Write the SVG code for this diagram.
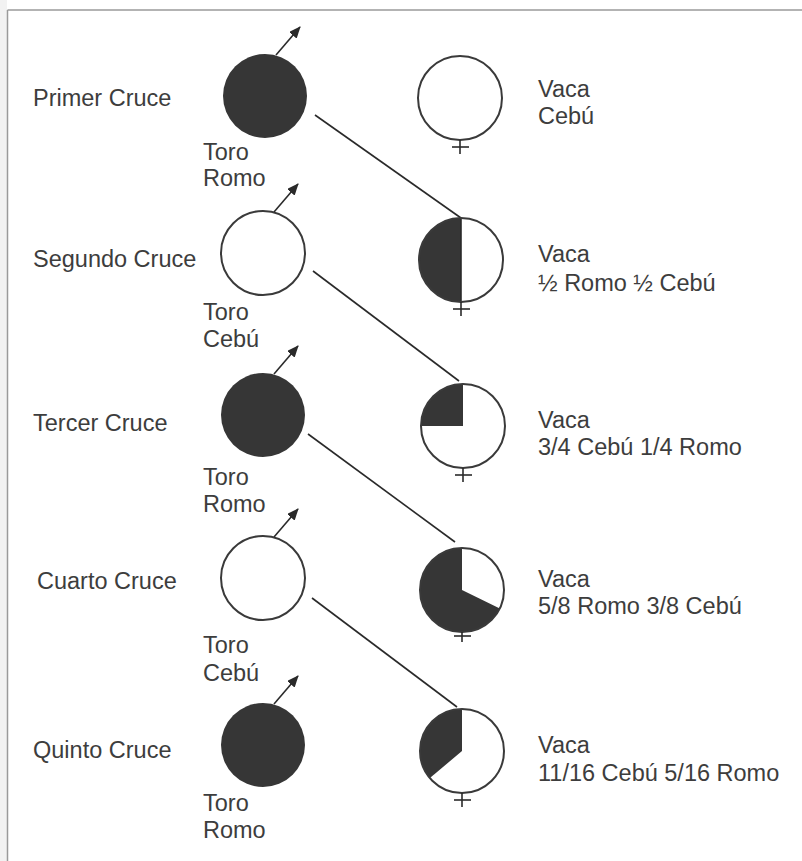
<svg xmlns="http://www.w3.org/2000/svg" width="802" height="861" viewBox="0 0 802 861">
<defs>
<style>
text{font-family:"Liberation Sans",Arial,sans-serif;font-size:23.5px;fill:#3d3d3d}
.ring{fill:none;stroke:#3a3a3a;stroke-width:2}
.dark{fill:#363636}
.wh{fill:#fff}
.ln{stroke:#2a2a2a;stroke-width:1.6;fill:none}
</style>
<marker id="ah" viewBox="0 0 12 10" refX="11" refY="5" markerWidth="12" markerHeight="10" markerUnits="userSpaceOnUse" orient="auto">
<path d="M0,0 L12,5 L0,10 Z" fill="#2a2a2a"/>
</marker>
</defs>
<rect x="0" y="0" width="802" height="861" fill="#fff"/>
<rect x="0" y="0" width="7" height="861" fill="#f2f2f2"/>
<line x1="7.5" y1="10" x2="802" y2="10" stroke="#9a9a9a" stroke-width="1.5"/>
<line x1="7.5" y1="10" x2="7.5" y2="861" stroke="#9a9a9a" stroke-width="1.5"/>

<g id="connectors">
<line class="ln" x1="315" y1="115" x2="461" y2="218"/>
<line class="ln" x1="313" y1="271" x2="459" y2="381"/>
<line class="ln" x1="308" y1="434" x2="455" y2="542"/>
<line class="ln" x1="312" y1="598" x2="457" y2="707"/>
</g>

<g id="row1">
<text x="33" y="106">Primer Cruce</text>
<g id="bull1">
<circle cx="265" cy="96" r="42" class="dark"/>
<line class="ln" x1="276" y1="55" x2="300" y2="27" marker-end="url(#ah)"/>
<text x="203" y="160">Toro</text><text x="203" y="186">Romo</text>
</g>
<g id="cow1">
<circle cx="460" cy="98" r="42" class="wh"/>
<circle cx="460" cy="98" r="42" class="ring"/>
<line class="ln" x1="460" y1="140" x2="460" y2="154"/><line class="ln" x1="452" y1="147" x2="469" y2="147"/>
<text x="538" y="97">Vaca</text><text x="538" y="124">Cebú</text>
</g>
</g>

<g id="row2">
<text x="33" y="267">Segundo Cruce</text>
<g id="bull2">
<circle cx="263" cy="253" r="42" class="wh"/>
<circle cx="263" cy="253" r="42" class="ring"/>
<line class="ln" x1="274" y1="212" x2="298" y2="184" marker-end="url(#ah)"/>
<text x="203" y="320">Toro</text><text x="203" y="347">Cebú</text>
</g>
<g id="cow2">
<circle cx="461" cy="260" r="42" class="wh"/>
<path class="dark" d="M461,218 A42,42 0 0 0 461,302 Z"/>
<line class="ln" x1="461" y1="218" x2="461" y2="302"/>
<circle cx="461" cy="260" r="42" class="ring"/>
<line class="ln" x1="461" y1="302" x2="461" y2="316"/><line class="ln" x1="453" y1="309" x2="470" y2="309"/>
<text x="538" y="262">Vaca</text><text x="538" y="291">½ Romo ½ Cebú</text>
</g>
</g>

<g id="row3">
<text x="33" y="431">Tercer Cruce</text>
<g id="bull3">
<circle cx="263" cy="415" r="42" class="dark"/>
<line class="ln" x1="274" y1="374" x2="298" y2="346" marker-end="url(#ah)"/>
<text x="203" y="485">Toro</text><text x="203" y="512">Romo</text>
</g>
<g id="cow3">
<circle cx="463" cy="426" r="42" class="wh"/>
<path class="dark" d="M463,426 L463,384 A42,42 0 0 0 421,426 Z"/>
<circle cx="463" cy="426" r="42" class="ring"/>
<line class="ln" x1="463" y1="468" x2="463" y2="482"/><line class="ln" x1="455" y1="475" x2="472" y2="475"/>
<text x="538" y="428">Vaca</text><text x="538" y="455">3/4 Cebú 1/4 Romo</text>
</g>
</g>

<g id="row4">
<text x="37" y="589">Cuarto Cruce</text>
<g id="bull4">
<circle cx="263" cy="578" r="42" class="wh"/>
<circle cx="263" cy="578" r="42" class="ring"/>
<line class="ln" x1="274" y1="537" x2="298" y2="509" marker-end="url(#ah)"/>
<text x="203" y="653">Toro</text><text x="203" y="681">Cebú</text>
</g>
<g id="cow4">
<circle cx="462" cy="590" r="42" class="wh"/>
<path class="dark" d="M462,590 L462,548 A42,42 0 1 0 499.8,608.4 Z"/>
<circle cx="462" cy="590" r="42" class="ring"/>
<line class="ln" x1="462" y1="632" x2="462" y2="642"/><line class="ln" x1="454" y1="636" x2="471" y2="636"/>
<text x="538" y="587">Vaca</text><text x="538" y="614">5/8 Romo 3/8 Cebú</text>
</g>
</g>

<g id="row5">
<text x="33" y="758">Quinto Cruce</text>
<g id="bull5">
<circle cx="263" cy="745" r="42" class="dark"/>
<line class="ln" x1="274" y1="704" x2="298" y2="676" marker-end="url(#ah)"/>
<text x="203" y="811">Toro</text><text x="203" y="838">Romo</text>
</g>
<g id="cow5">
<circle cx="462" cy="751" r="42" class="wh"/>
<path class="dark" d="M462,751 L462,709 A42,42 0 0 0 429.9,778.1 Z"/>
<circle cx="462" cy="751" r="42" class="ring"/>
<line class="ln" x1="462" y1="793" x2="462" y2="807"/><line class="ln" x1="454" y1="800" x2="471" y2="800"/>
<text x="538" y="753">Vaca</text><text x="538" y="781">11/16 Cebú 5/16 Romo</text>
</g>
</g>
</svg>
